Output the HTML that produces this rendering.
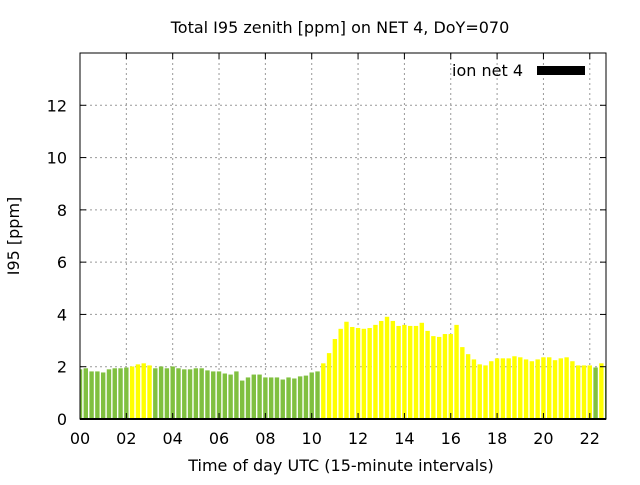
<!DOCTYPE html>
<html><head><meta charset="utf-8"><style>
body{margin:0;background:#fff;}
svg text{font-family:"DejaVu Sans","Liberation Sans",sans-serif;fill:#000;}
</style></head><body>
<svg id="chart" width="640" height="480">
<text x="340" y="33" font-size="16" text-anchor="middle">Total I95 zenith [ppm] on NET 4, DoY=070</text>
<text x="341" y="471" font-size="16" text-anchor="middle">Time of day UTC (15-minute intervals)</text>
<text transform="translate(19,236) rotate(-90)" font-size="16" text-anchor="middle">I95 [ppm]</text>
<g id="grid"></g><g id="bars"></g><g id="axes"></g>
<text x="523" y="76" font-size="16" text-anchor="end">ion net 4</text>
<rect x="537" y="66" width="48" height="9" fill="#000"/>
</svg>
<script>
const values=[1.90,1.94,1.82,1.82,1.78,1.90,1.94,1.94,1.97,2.01,2.09,2.13,2.05,1.94,2.01,1.94,2.01,1.94,1.90,1.90,1.94,1.94,1.86,1.82,1.82,1.74,1.70,1.82,1.47,1.59,1.70,1.70,1.59,1.59,1.59,1.51,1.59,1.55,1.63,1.66,1.78,1.82,2.13,2.52,3.06,3.45,3.72,3.52,3.48,3.45,3.48,3.60,3.75,3.91,3.75,3.56,3.60,3.56,3.56,3.68,3.37,3.17,3.14,3.25,3.25,3.60,2.75,2.48,2.28,2.09,2.05,2.21,2.32,2.32,2.32,2.40,2.36,2.28,2.21,2.28,2.36,2.36,2.25,2.32,2.36,2.21,2.05,2.05,2.05,1.97,2.13,1.97];
const colorKeys=["g","g","g","g","g","g","g","g","g","y","y","y","y","g","g","g","g","g","g","g","g","g","g","g","g","g","g","g","g","g","g","g","g","g","g","g","g","g","g","g","g","g","y","y","y","y","y","y","y","y","y","y","y","y","y","y","y","y","y","y","y","y","y","y","y","y","y","y","y","y","y","y","y","y","y","y","y","y","y","y","y","y","y","y","y","y","y","y","y","g","y","g"];
const yTicks=[0,2,4,6,8,10,12];
const xTicks=["00","02","04","06","08","10","12","14","16","18","20","22"];
const L=80,R=606,T=53,B=419,yMax=14,xMax=22.7;
const xs=h=>L+(h/xMax)*(R-L);
const ys=v=>B-(v/yMax)*(B-T);
const NS="http://www.w3.org/2000/svg";
function mk(p,t,a){const e=document.createElementNS(NS,t);for(const k in a)e.setAttribute(k,a[k]);p.appendChild(e);return e;}
const grid=document.getElementById('grid'),bars=document.getElementById('bars'),axes=document.getElementById('axes');
yTicks.forEach(v=>{const y=ys(v);
 if(v>0){const g=mk(grid,'line',{x1:L,x2:R,y1:y,y2:y,stroke:'#999','stroke-dasharray':'2,3'});
 
 }
 mk(axes,'line',{x1:L,x2:L+6,y1:y,y2:y,stroke:'#000'});
 mk(axes,'line',{x1:R-6,x2:R,y1:y,y2:y,stroke:'#000'});
 const t=mk(axes,'text',{x:L-13,y:y+6,'font-size':16,'text-anchor':'end'});t.textContent=v;
 
 
});
xTicks.forEach((s,i)=>{const x=xs(i*2);
 if(i>0){const g=mk(grid,'line',{x1:x,x2:x,y1:T,y2:B,stroke:'#999','stroke-dasharray':'2,3'});
 
 }
 mk(axes,'line',{x1:x,x2:x,y1:B,y2:B-6,stroke:'#000'});
 mk(axes,'line',{x1:x,x2:x,y1:T,y2:T+6,stroke:'#000'});
 const t=mk(axes,'text',{x:x,y:B+25,'font-size':16,'text-anchor':'middle'});t.textContent=s;
 
 
});
mk(bars,'clipPath',{id:'clp'});mk(document.getElementById('clp'),'rect',{x:L,y:T,width:R-L,height:B-T});
bars.setAttribute('clip-path','url(#clp)');
values.forEach((v,i)=>{const cx=xs(i*0.25),w=4.4;
 const r=mk(bars,'rect',{x:cx-w/2,y:ys(v),width:w,height:B-ys(v),fill:colorKeys[i]==='g'?'#80c040':'#ffff00'});
 
 
});
const f=mk(axes,'rect',{x:L,y:T,width:R-L,height:B-T,fill:'none',stroke:'#000','stroke-width':1});


mk(axes,'line',{x1:L,x2:R,y1:B,y2:B,stroke:'#000','stroke-width':2});
</script>
</body></html>
